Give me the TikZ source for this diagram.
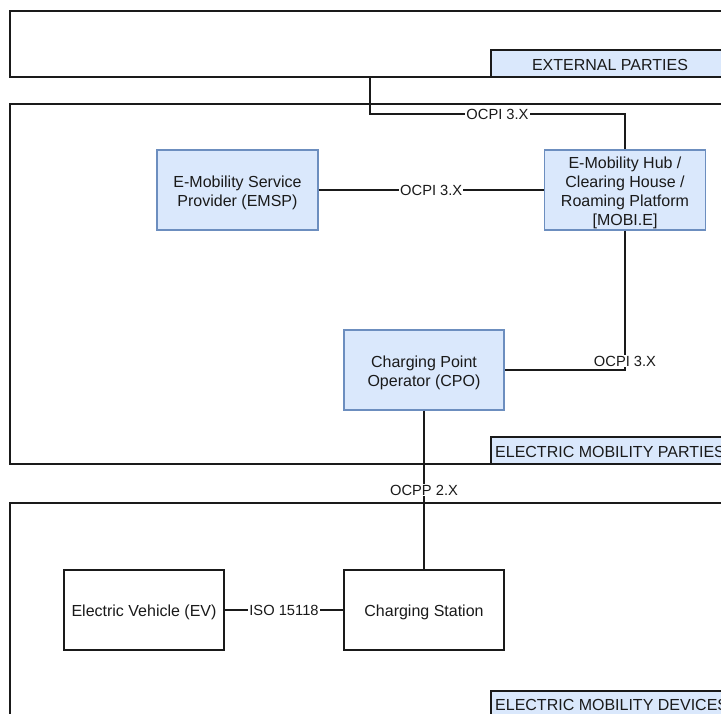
\documentclass[tikz,border=0pt]{standalone}
\usepackage{fontspec}
\setmainfont{Liberation Sans}
\definecolor{tagfill}{HTML}{DAE8FC}
\definecolor{partyline}{HTML}{6C8EBF}
\definecolor{frame}{HTML}{1A1A1A}
\definecolor{txt}{HTML}{1A1A1A}
\begin{document}
\begin{tikzpicture}[x=1pt,y=-1pt,
  every node/.style={font=\fontsize{16}{19.2}\selectfont, text=txt},
  container/.style={draw=frame, line width=1.33pt},
  tag/.style={draw=frame, fill=tagfill, line width=1.33pt},
  party/.style={draw=partyline, fill=tagfill, line width=1.33pt,
    minimum width=161pt, minimum height=80pt, inner sep=0pt},
  device/.style={draw=frame, fill=white, line width=1.33pt,
    minimum width=160pt, minimum height=80pt, inner sep=0pt},
  boxtext/.style={align=center, inner sep=0pt},
  link/.style={draw=frame, line width=1.33pt},
  proto/.style={fill=white, font=\fontsize{14.7}{17}\selectfont, inner sep=1pt}
]
\useasboundingbox[fill=white] (0,0) rectangle (721,713);
\clip (0,0) rectangle (721,713);

% layer containers with their corner tags
\draw[container] (10,11) rectangle (780,77);
\draw[tag] (491,50) rectangle (780,77);
\node (tagext) at (610,65) {EXTERNAL PARTIES};

\draw[container] (10,104) rectangle (780,464);
\draw[tag] (491,437) rectangle (780,464);
\node[anchor=west, inner sep=0pt] (tagparties) at (495,452) {ELECTRIC MOBILITY PARTIES};

\draw[container] (10,503) rectangle (780,740);
\draw[tag] (491,691) rectangle (780,740);
\node[anchor=west, inner sep=0pt] (tagdevices) at (495,705) {ELECTRIC MOBILITY DEVICES};

% parties
\node[party] (emsp) at (237.5,190) {};
\node[party] (hub) at (625,190) {};
\node[party, minimum width=160pt] (cpo) at (424,370) {};
\node[boxtext] (emsptext) at ([yshift=-3pt]emsp.center) {E-Mobility Service\\Provider (EMSP)};
\node[boxtext] (hubtext) at ([yshift=-3pt]hub.center) {E-Mobility Hub /\\Clearing House /\\Roaming Platform\\{[MOBI.E]}};
\node[boxtext] (cpotext) at ([yshift=-3pt]cpo.center) {Charging Point\\Operator (CPO)};

% devices
\node[device] (ev) at (144,610) {};
\node[device] (cs) at (424,610) {};
\node[boxtext] (evtext) at ([yshift=-2pt]ev.center) {Electric Vehicle (EV)};
\node[boxtext] (cstext) at ([yshift=-2pt]cs.center) {Charging Station};

% connectors
\coordinate (extdrop) at (370,77);
\coordinate (ocpiA) at (370,114);
\coordinate (ocpiB) at (625,114);
\draw[link] (extdrop) -- (ocpiA) -- node[proto] (l1) {OCPI 3.X} (ocpiB) -- (hub.north);
\draw[link] (emsp.east) -- node[proto] (l2) {OCPI 3.X} (hub.west);
\draw[link] (hub.south) |- node[proto, pos=0.5, yshift=9pt] (l3) {OCPI 3.X} (cpo.east);
\draw[link] (cpo.south) -- node[proto] (l4) {OCPP 2.X} (cs.north);
\draw[link] (ev.east) -- node[proto] (l5) {ISO 15118} (cs.west);
\end{tikzpicture}
\end{document}
